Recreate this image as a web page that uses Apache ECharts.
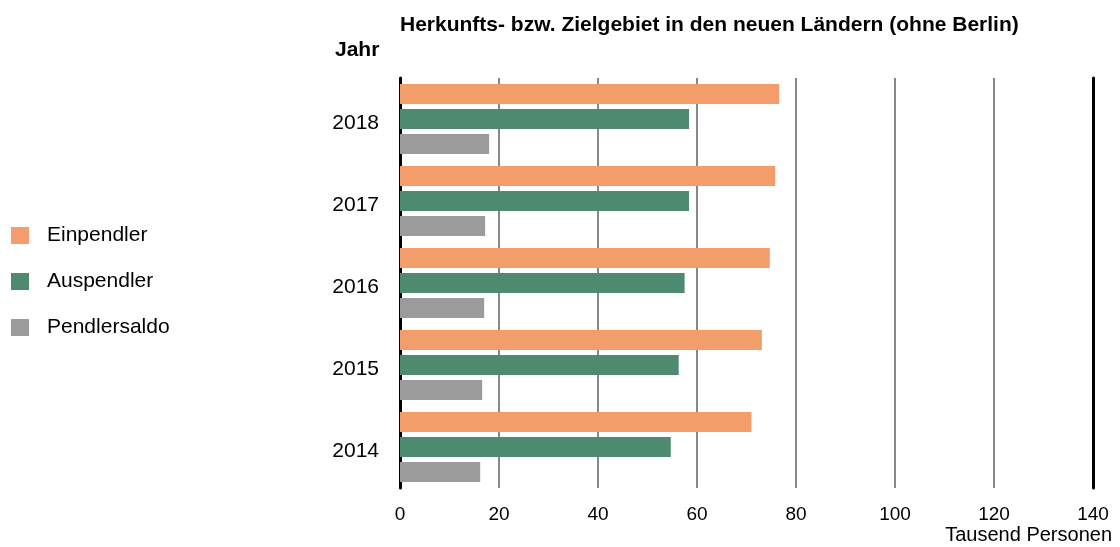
<!DOCTYPE html>
<html>
<head>
<meta charset="utf-8">
<script src="https://cdn.jsdelivr.net/npm/echarts@6/dist/echarts.min.js"></script>
<style>
  html, body { margin: 0; padding: 0; background: #fff; }
  #chart { width: 1120px; height: 547px; }
</style>
</head>
<body>
<div id="chart"></div>
<script>
  // Daten (Tausend Personen)
  var years = ['2018', '2017', '2016', '2015', '2014']
  var einpendler = [76.6, 75.8, 74.7, 73.1, 71.0]
  var auspendler = [58.4, 58.4, 57.5, 56.3, 54.7]
  var pendlersaldo = [18.0, 17.2, 17.0, 16.6, 16.2]

  var font = '"Liberation Sans", Arial, sans-serif'

  var chart = echarts.init(document.getElementById('chart'))
  var option = {
    animation: false,
    color: ['#F29D6A', '#4E8A70', '#9B9B9C'],
    title: [
      {
        text: 'Herkunfts- bzw. Zielgebiet in den neuen Ländern (ohne Berlin)',
        left: 400, top: 15, padding: 0,
        textStyle: { fontFamily: font, fontSize: 21, fontWeight: 'bold', color: '#000' }
      },
      {
        text: 'Jahr',
        left: 335, top: 40, padding: 0,
        textStyle: { fontFamily: font, fontSize: 21, fontWeight: 'bold', color: '#000' }
      },
      {
        text: 'Tausend Personen',
        right: 8, top: 525, padding: 0,
        textStyle: { fontFamily: font, fontSize: 20, fontWeight: 'normal', color: '#000' }
      }
    ],
    legend: {
      orient: 'vertical',
      left: 11, top: 225, padding: 0,
      icon: 'rect',
      itemWidth: 18, itemHeight: 17,
      itemGap: 25,
      data: ['Einpendler', 'Auspendler', 'Pendlersaldo'],
      textStyle: { fontFamily: font, fontSize: 21, color: '#000', padding: [0, 0, 0, 13] }
    },
    grid: { left: 400, right: 27, top: 78, bottom: 59 },
    xAxis: {
      type: 'value',
      min: 0, max: 140, interval: 20,
      axisLine: { show: false },
      axisTick: { show: false },
      axisLabel: { fontFamily: font, fontSize: 19, color: '#000', margin: 17 },
      splitLine: { show: true, lineStyle: { color: '#888', width: 2 } }
    },
    yAxis: [
      {
        type: 'category',
        inverse: true,
        data: years,
        axisLine: { show: true, lineStyle: { color: '#000', width: 3 } },
        axisTick: { show: false },
        axisLabel: {
          fontFamily: font, fontSize: 21, color: '#000', margin: 21,
          formatter: function (v) { return '{y|' + v + '}' },
          rich: { y: { fontFamily: font, fontSize: 21, color: '#000', padding: [8, 0, 0, 0] } }
        }
      },
      {
        type: 'category',
        inverse: true,
        position: 'right',
        data: years,
        axisLine: { show: true, lineStyle: { color: '#000', width: 3 } },
        axisTick: { show: false },
        axisLabel: { show: false }
      }
    ],
    series: [
      { name: 'Einpendler', type: 'bar', barWidth: 20, barGap: '25%', data: einpendler },
      { name: 'Auspendler', type: 'bar', barWidth: 20, barGap: '25%', data: auspendler },
      { name: 'Pendlersaldo', type: 'bar', barWidth: 20, barGap: '25%', data: pendlersaldo }
    ]
  }
  chart.setOption(option)
</script>
</body>
</html>
